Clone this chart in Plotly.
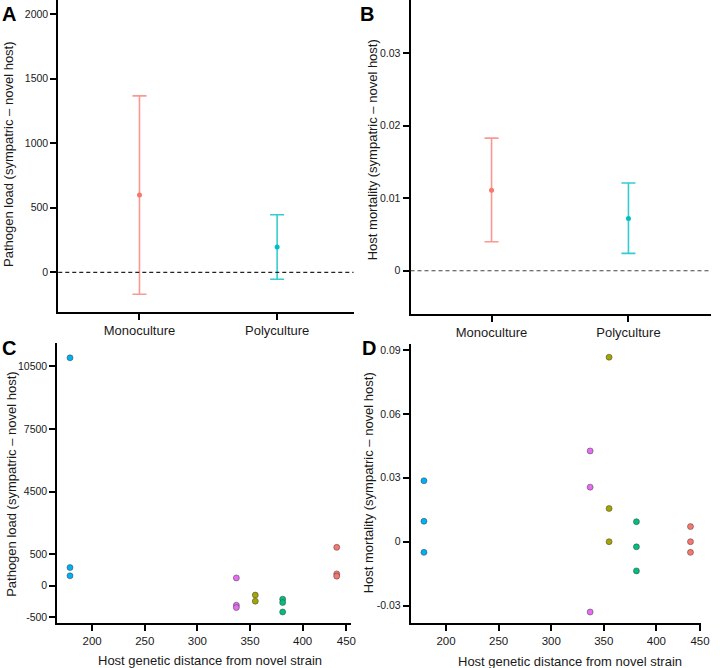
import numpy as np
import plotly.graph_objects as go

W, H = 720, 668

# ---------------- data ----------------
groups = ["Monoculture", "Polyculture"]
group_colors = ["#F8766D", "#00BFC4"]
bar_colors = ["rgba(248,118,109,0.75)", "rgba(0,191,196,0.8)"]

load_mean = [598, 196]
load_lo = [-170, -54]
load_hi = [1366, 446]

mort_mean = [0.0111, 0.0072]
mort_lo = [0.0040, 0.0024]
mort_hi = [0.0183, 0.0121]

strain_dist = [179, 337, 355, 381, 439]
strain_colors = ["#00B0F6", "#E76BF3", "#A3A500", "#00BF7D", "#F8766D"]
load_pts = [[10915, 290, 158], [124, -312, -349], [-150, -247], [-215, -269, -419], [950, 189, 153]]
mort_pts = [[0.0286, 0.0096, -0.0050], [0.0426, 0.0256, -0.0330], [0.0866, 0.0156, 0.0],
            [0.0094, -0.0024, -0.0137], [0.0071, 0.0, -0.0050]]

load_ticks_A = [0, 500, 1000, 1500, 2000]
mort_ticks_B = [0, 0.01, 0.02, 0.03]
mort_ticklabels_B = ["0", "0.01", "0.02", "0.03"]
dist_ticks = [200, 250, 300, 350, 400, 450]
dist_tick_pos = [0, 1, 2, 3, 4, 4.83]
load_ticks_C = [-500, 0, 500, 4500, 7500, 10500]
load_tick_pos_C = [-1, 0, 1, 3, 5, 7]
mort_ticks_D = [-0.03, 0, 0.03, 0.06, 0.09]
mort_ticklabels_D = ["-0.03", "0", "0.03", "0.06", "0.09"]


def piecewise(v, knots, pos):
    v = np.asarray(v, dtype=float)
    k = np.asarray(knots, dtype=float)
    p = np.asarray(pos, dtype=float)
    out = np.interp(v, k, p)
    lo = v < k[0]
    hi = v > k[-1]
    out[lo] = p[0] + (v[lo] - k[0]) * (p[1] - p[0]) / (k[1] - k[0])
    out[hi] = p[-1] + (v[hi] - k[-1]) * (p[-1] - p[-2]) / (k[-1] - k[-2])
    return out


FONT = "Arial, Liberation Sans, Helvetica, sans-serif"
TXT = "#1a1a1a"

fig = go.Figure()

# ---------------- Panel A ----------------
for i, g in enumerate(groups):
    fig.add_trace(go.Scatter(
        x=[g], y=[load_mean[i]], mode="markers",
        marker=dict(color=group_colors[i], size=5),
        error_y=dict(type="data", symmetric=False,
                     array=[load_hi[i] - load_mean[i]],
                     arrayminus=[load_mean[i] - load_lo[i]],
                     color=bar_colors[i], thickness=1.6, width=7),
        xaxis="x", yaxis="y", showlegend=False))

# ---------------- Panel B ----------------
for i, g in enumerate(groups):
    fig.add_trace(go.Scatter(
        x=[g], y=[mort_mean[i]], mode="markers",
        marker=dict(color=group_colors[i], size=5),
        error_y=dict(type="data", symmetric=False,
                     array=[mort_hi[i] - mort_mean[i]],
                     arrayminus=[mort_mean[i] - mort_lo[i]],
                     color=bar_colors[i], thickness=1.6, width=7),
        xaxis="x2", yaxis="y2", showlegend=False))

# ---------------- Panel C & D ----------------
for i, d in enumerate(strain_dist):
    ys = load_pts[i]
    fig.add_trace(go.Scatter(
        x=piecewise([d] * len(ys), dist_ticks, dist_tick_pos),
        y=piecewise(ys, load_ticks_C, load_tick_pos_C),
        mode="markers",
        marker=dict(color=strain_colors[i], size=6, line=dict(color="rgba(60,60,60,0.7)", width=0.7)),
        xaxis="x3", yaxis="y3", showlegend=False))
    ys2 = mort_pts[i]
    fig.add_trace(go.Scatter(
        x=piecewise([d] * len(ys2), dist_ticks, dist_tick_pos),
        y=ys2, mode="markers",
        marker=dict(color=strain_colors[i], size=6, line=dict(color="rgba(60,60,60,0.7)", width=0.7)),
        xaxis="x4", yaxis="y4", showlegend=False))


def px_x(a, b):
    return [a / W, b / W]


def px_y(top, bottom):
    return [1 - bottom / H, 1 - top / H]


axis_common = dict(showline=True, linecolor="black", linewidth=2, ticks="outside",
                   ticklen=6, tickwidth=1.5, tickcolor="black", showgrid=False,
                   zeroline=False, tickfont=dict(family=FONT, size=10.5, color=TXT))
cat_font = dict(family=FONT, size=13, color=TXT)

fig.update_layout(
    width=W, height=H, margin=dict(l=0, r=0, t=0, b=0),
    paper_bgcolor="white", plot_bgcolor="white",
    font=dict(family=FONT, color=TXT),
    xaxis=dict(domain=px_x(59, 358), anchor="y", type="category", categoryorder="array",
               categoryarray=groups, range=[-0.59, 1.555], **{**axis_common, "tickfont": cat_font}),
    yaxis=dict(domain=px_y(0, 311.7), anchor="x", range=[-305, 2108],
               tickvals=load_ticks_A, ticktext=[str(v) for v in load_ticks_A], **axis_common),
    xaxis2=dict(domain=px_x(415.7, 720), anchor="y2", type="category", categoryorder="array",
                categoryarray=groups, range=[-0.592, 1.603], **{**axis_common, "tickfont": cat_font}),
    yaxis2=dict(domain=px_y(0, 313.5), anchor="x2", range=[-0.0059, 0.03735],
                tickvals=mort_ticks_B, ticktext=mort_ticklabels_B, **axis_common),
    xaxis3=dict(domain=px_x(58, 355), anchor="y3", range=[-0.662, 4.91],
                tickvals=dist_tick_pos, ticktext=[str(v) for v in dist_ticks],
                **{**axis_common, "tickfont": dict(family=FONT, size=11.5, color=TXT)}),
    yaxis3=dict(domain=px_y(343, 623.3), anchor="x3", range=[-1.2, 7.75],
                tickvals=load_tick_pos_C, ticktext=[str(v) for v in load_ticks_C], **axis_common),
    xaxis4=dict(domain=px_x(416, 710), anchor="y4", range=[-0.67, 4.85],
                tickvals=dist_tick_pos, ticktext=[str(v) for v in dist_ticks],
                **{**axis_common, "tickfont": dict(family=FONT, size=11.5, color=TXT)}),
    yaxis4=dict(domain=px_y(344, 623.3), anchor="x4", range=[-0.0383, 0.0928],
                tickvals=mort_ticks_D, ticktext=mort_ticklabels_D, **axis_common),
)

# dashed zero lines
fig.add_shape(type="line", xref="x domain", yref="y", x0=0, x1=1, y0=0, y1=0,
              line=dict(color="#222", width=1.2, dash="4px,3px"))
fig.add_shape(type="line", xref="x2 domain", yref="y2", x0=0, x1=1, y0=0, y1=0,
              line=dict(color="#444", width=1.2, dash="4px,3px"))


def ann(text, x, y, size=13, angle=0, bold=False):
    fig.add_annotation(text=f"<b>{text}</b>" if bold else text, x=x / W, y=1 - y / H,
                       xref="paper", yref="paper", showarrow=False, textangle=angle,
                       xanchor="center", yanchor="middle",
                       font=dict(family=FONT, size=size, color="black" if bold else TXT))


ann("A", 9, 14, size=20, bold=True)
ann("B", 372, 14, size=20, bold=True)
ann("C", 9.5, 348, size=20, bold=True)
ann("D", 374, 348, size=20, bold=True)

ann("Pathogen load (sympatric – novel host)", 8, 154, angle=-90)
ann("Host mortality (sympatric – novel host)", 377, 150, angle=-90)
ann("Pathogen load (sympatric – novel host)", 11, 484, angle=-90)
ann("Host mortality (sympatric – novel host)", 374, 483, angle=-90)
ann("Host genetic distance from novel strain", 213, 660)
ann("Host genetic distance from novel strain", 577, 661)

fig.write_html("out.html", config={"displayModeBar": False},
               post_script="document.body.style.margin='0';")
